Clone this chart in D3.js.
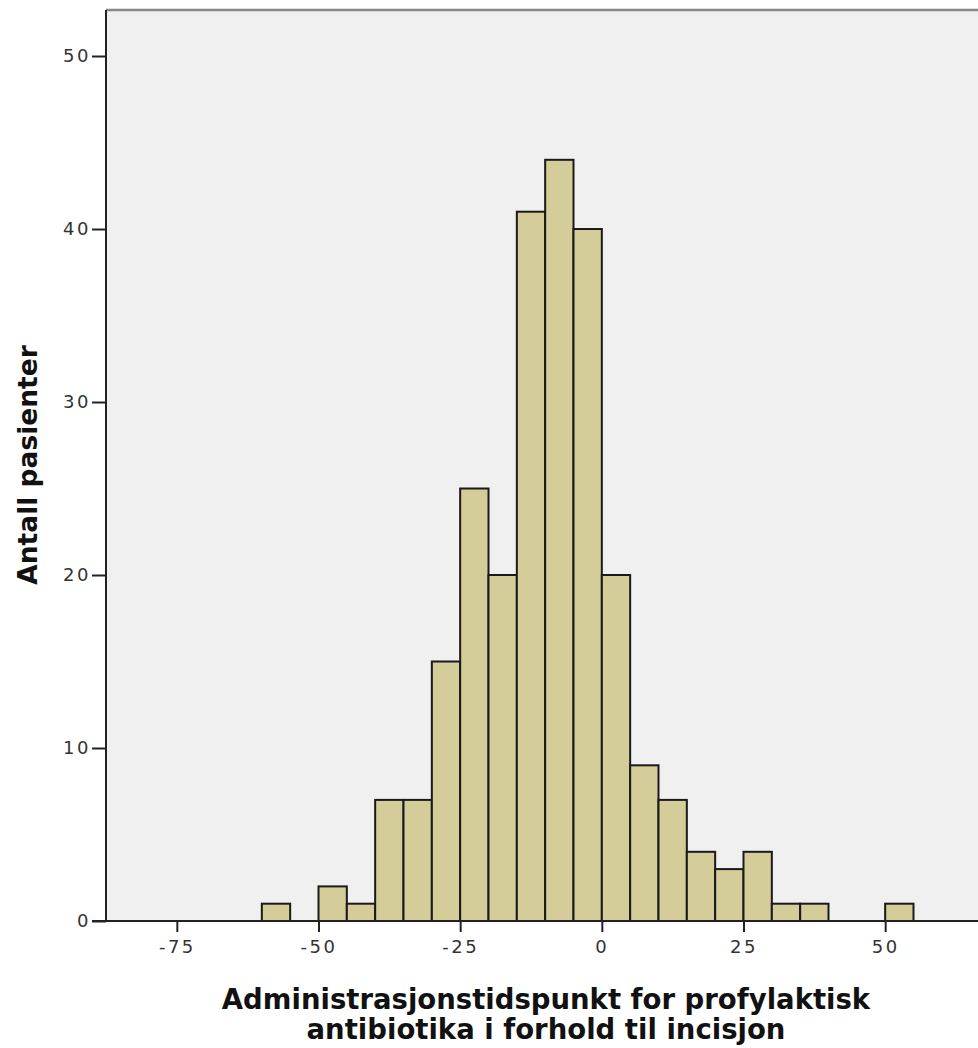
<!DOCTYPE html>
<html lang="no">
<head>
    <meta charset="UTF-8">
    <title>Histogram</title>
    <script src="https://cdn.jsdelivr.net/npm/d3@7"></script>
    <style type="text/css">
        body { margin: 0; background: #fff; }
        .bar { fill: #d4cc99; stroke: #1a1a1a; stroke-width: 2; }
        .title { font-family: "DejaVu Sans", sans-serif; font-weight: bold; fill: #111; }
    </style>
</head>
<body>
    <svg id="chart"></svg>
    <script>
        // Size of the SVG
        var width = 978;
        var height = 1048;

        // Bin lower edges (minutes), bin width 5
        var binStarts = [-60, -55, -50, -45, -40, -35, -30, -25, -20, -15, -10, -5,
                         0, 5, 10, 15, 20, 25, 30, 35, 40, 45, 50];
        var counts = [1, 0, 2, 1, 7, 7, 15, 25, 20, 41, 44, 40,
                      20, 9, 7, 4, 3, 4, 1, 1, 0, 0, 1];
        var binWidth = 5;
        var xTicks = [-75, -50, -25, 0, 25, 50];
        var yTicks = [0, 10, 20, 30, 40, 50];

        var plot = {left: 106, top: 10, right: 990, bottom: 921};

        var x = d3.scaleLinear().domain([-87.5, 68.5]).range([plot.left, plot.right]);
        var y = d3.scaleLinear().domain([0, 52.66]).range([plot.bottom, plot.top]);

        var svg = d3.select("#chart")
            .attr("width", width)
            .attr("height", height);

        // plot background
        svg.append("rect")
            .attr("x", plot.left)
            .attr("y", plot.top)
            .attr("width", plot.right - plot.left)
            .attr("height", plot.bottom - plot.top)
            .attr("fill", "#eff0ef");

        // top border
        svg.append("line")
            .attr("x1", plot.left).attr("x2", plot.right)
            .attr("y1", plot.top).attr("y2", plot.top)
            .attr("stroke", "#888").attr("stroke-width", 2.5);

        var bins = binStarts.map(function (s, i) { return {x0: s, x1: s + binWidth, n: counts[i]}; })
            .filter(function (d) { return d.n > 0; });

        svg.selectAll("rect.bar")
            .data(bins)
            .enter()
            .append("rect")
            .attr("class", "bar")
            .attr("x", function (d) { return x(d.x0); })
            .attr("width", function (d) { return x(d.x1) - x(d.x0); })
            .attr("y", function (d) { return y(d.n); })
            .attr("height", function (d) { return y(0) - y(d.n); });

        function styleTicks(g) {
            g.select(".domain").remove();
            g.selectAll(".tick line").attr("stroke", "#222").attr("stroke-width", 2);
            g.selectAll(".tick text")
                .attr("font-family", "DejaVu Sans, sans-serif")
                .attr("font-size", 18)
                .attr("letter-spacing", 2.5)
                .attr("fill", "#333");
        }

        // y axis
        var yAxis = svg.append("g")
            .attr("transform", "translate(" + plot.left + ",0)")
            .call(d3.axisLeft(y).tickValues(yTicks).tickSize(14).tickPadding(1));
        styleTicks(yAxis);
        svg.append("line")
            .attr("x1", plot.left).attr("x2", plot.left)
            .attr("y1", plot.top).attr("y2", plot.bottom)
            .attr("stroke", "#222").attr("stroke-width", 2);

        // x axis
        var xAxis = svg.append("g")
            .attr("transform", "translate(0," + plot.bottom + ")")
            .call(d3.axisBottom(x).tickValues(xTicks).tickSize(11).tickPadding(8)
                .tickFormat(function (d) { return d < 0 ? "-" + Math.abs(d) : d; }));
        styleTicks(xAxis);
        svg.append("line")
            .attr("x1", plot.left - 14).attr("x2", plot.right)
            .attr("y1", plot.bottom).attr("y2", plot.bottom)
            .attr("stroke", "#222").attr("stroke-width", 2);

        // titles
        svg.append("text")
            .attr("class", "title")
            .attr("font-size", 26.5)
            .attr("transform", "translate(37,465) rotate(-90)")
            .attr("text-anchor", "middle")
            .text("Antall pasienter");

        var xt = svg.append("text")
            .attr("class", "title")
            .attr("font-size", 27.5)
            .attr("text-anchor", "middle");
        xt.append("tspan").attr("x", 546).attr("y", 1009).text("Administrasjonstidspunkt for profylaktisk");
        xt.append("tspan").attr("x", 546).attr("y", 1039).text("antibiotika i forhold til incisjon");
    </script>
</body>
</html>
